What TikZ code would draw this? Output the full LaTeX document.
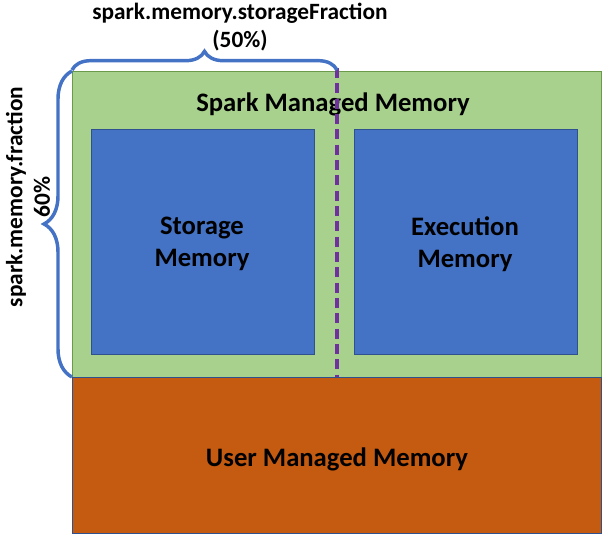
\documentclass[tikz,border=0pt]{standalone}
\usepackage{fontspec}
\setmainfont{Carlito}
\usetikzlibrary{decorations.pathreplacing}
\definecolor{spgreen}{HTML}{A9D18E}
\definecolor{spgreenb}{HTML}{6A9A4A}
\definecolor{spblue}{HTML}{4472C4}
\definecolor{spblueb}{HTML}{2F528F}
\definecolor{sporange}{HTML}{C55A11}
\definecolor{sppurple}{HTML}{7030A0}
\tikzset{
  region/.style={draw, line width=0.9pt, inner sep=0pt, anchor=north west},
  boxtext/.style={font=\bfseries\fontsize{20}{24}\selectfont, align=center, text=black},
  labeltext/.style={font=\bfseries\fontsize{17.5}{20.5}\selectfont, align=center, text=black},
  bracestyle/.style={draw=spblue, line width=2.6pt, decorate},
  splitline/.style={draw=sppurple, line width=2.6pt, dash pattern=on 7.5pt off 4pt}
}
\begin{document}
\begin{tikzpicture}[x=0.75pt,y=-0.75pt]
\useasboundingbox (0,0) rectangle (602,535);
% regions
\node[region, fill=spgreen, draw=spgreenb, minimum width=529*0.75pt, minimum height=306*0.75pt] (spark) at (72,71) {};
\node[region, fill=sporange, draw=spblueb, minimum width=529*0.75pt, minimum height=156*0.75pt] (user) at (72,377) {};
\node[region, fill=spblue, draw=spblueb, minimum width=223*0.75pt, minimum height=225*0.75pt] (storage) at (91,129) {};
\node[region, fill=spblue, draw=spblueb, minimum width=223*0.75pt, minimum height=225*0.75pt] (execution) at (354,129) {};
% texts
\node[boxtext] (sparkt) at (333,104) {Spark Managed Memory};
\node[boxtext] (storaget) at (202,244) {Storage\\Memory};
\node[boxtext] (executiont) at (465,244) {Execution\\Memory};
\node[boxtext] (usert) at (337,459) {User Managed Memory};
% dashed split
\coordinate (dtop) at (337,68);
\coordinate (dbot) at (337,377);
\draw[splitline] (dtop) -- (dbot);
% top brace
\coordinate (tb1) at (72,70);
\coordinate (tb2) at (337,70);
\draw[bracestyle, decoration={brace, amplitude=14pt}] (tb1) -- (tb2);
\node[labeltext] (toplabel) at (240,27) {spark.memory.storageFraction\\(50\%)};
% left brace
\coordinate (lb1) at (72,377);
\coordinate (lb2) at (72,71);
\draw[bracestyle, decoration={brace, amplitude=21pt}] (lb1) -- (lb2);
\node[labeltext, rotate=90] (leftlabel) at (28,197) {spark.memory.fraction\\60\%};
\end{tikzpicture}
\end{document}
